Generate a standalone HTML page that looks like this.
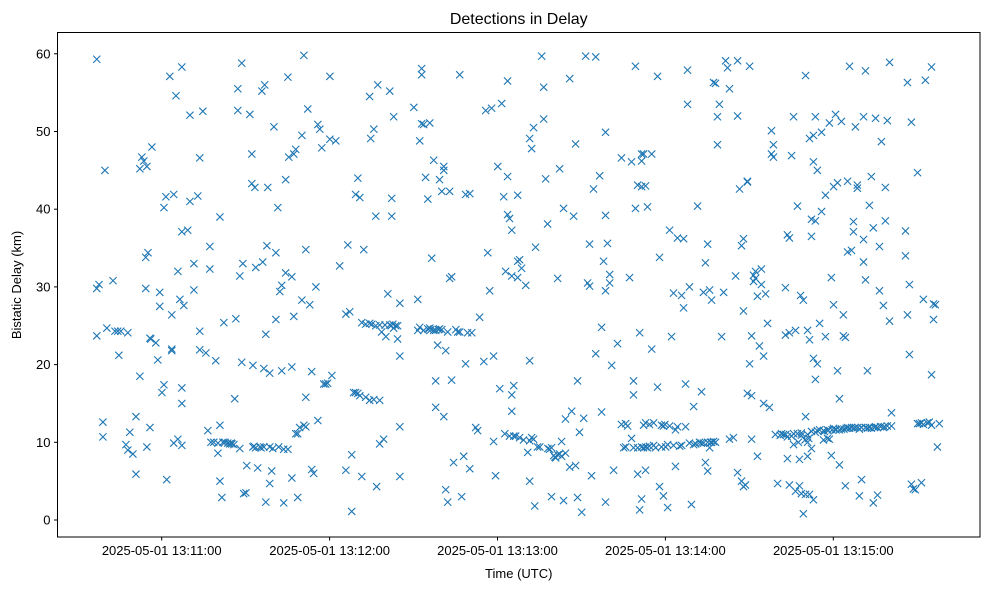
<!DOCTYPE html>
<html><head><meta charset="utf-8"><style>
body{margin:0;background:#fff;}
svg{display:block;font-family:"Liberation Sans","DejaVu Sans",sans-serif;}
</style></head><body>
<svg id="chart" width="989" height="590" viewBox="0 0 989 590">
<rect width="989" height="590" fill="#fff"/>
<text x="518.75" y="24" font-size="16" text-anchor="middle">Detections in Delay</text>
<g id="marks"></g>
<g id="axes"></g>
<text x="518.75" y="578" font-size="13" text-anchor="middle">Time (UTC)</text>
<text x="21" y="285" font-size="13" text-anchor="middle" transform="rotate(-90 21 285)">Bistatic Delay (km)</text>
</svg>
<script>
// seconds after 13:10:00 UTC, bistatic delay km
const detections = [
[36.8,59.3],[36.8,29.8],[37.6,30.3],[36.8,23.7],[39,12.6],[39,10.7],[39.7,45],[40.4,24.7],[42.6,30.8],[43.3,24.3],[44.3,24.3],[44.7,21.2],[45.4,24.3],[47.2,9.7],[47.9,9],[48.6,11.3],[47.9,24.1],[49.7,8.5],[50.8,13.3],[50.8,5.9],[52.2,18.5],[52.2,45.2],[52.9,46.7],[53.6,46.2],[54.3,33.8],[55.1,34.4],[54.3,29.8],[54.7,45.5],[55.8,23.4],[56.5,48],[56.1,23.3],[55.8,11.9],[54.7,9.4],[57.9,22.8],[58.6,20.6],[59.3,29.3],[59.3,27.5],[60.1,16.4],[60.8,17.4],[60.8,40.2],[61.5,41.6],[61.8,5.2],[62.9,57.1],[63.6,26.4],[63.6,21.8],[63.6,22],[64.3,41.9],[64.3,9.9],[65.1,54.6],[65.8,10.4],[65.8,32],[66.5,28.4],[67.2,58.3],[67.2,17],[67.2,15],[67.2,37.1],[67.2,9.6],[67.9,27.6],[69.3,37.3],[70.1,52.1],[70.1,41],[71.5,33],[71.5,29.6],[72.9,41.7],[73.6,46.6],[73.6,24.3],[73.6,21.9],[74.7,52.6],[75.8,21.5],[76.5,11.5],[77.2,35.2],[77.2,32.3],[77.6,10],[78.6,10],[79.3,20.5],[80.1,9.9],[80.1,8.6],[80.8,39],[80.8,12.2],[80.8,5],[81.5,2.9],[82.2,25.4],[82.6,10],[83.6,9.9],[84.3,9.8],[85.1,9.8],[85.8,9.7],[86.1,15.6],[86.5,25.9],[87.2,55.5],[87.2,52.7],[87.9,31.4],[87.9,9.2],[88.6,58.8],[88.6,20.3],[89,33],[89.3,3.4],[90.1,3.5],[90.4,7],[91.5,52.2],[92.2,47.1],[92.2,43.3],[92.6,9.4],[92.6,19.9],[93.6,9.3],[93.6,32.5],[93.3,42.8],[94.3,6.7],[95.1,9.4],[95.8,55.2],[96.1,33.2],[96.5,9.4],[96.5,19.5],[97.2,23.9],[96.8,56],[97.2,2.3],[97.6,35.3],[97.9,42.8],[98.6,9.4],[98.6,4.7],[98.6,18.9],[99.3,6.3],[100.1,50.6],[100.8,34.4],[100.8,25.8],[101.5,40.2],[101.8,9.4],[102.2,29.4],[102.9,30.2],[102.9,19.2],[103.6,9.1],[103.6,2.2],[104.3,31.8],[104.3,43.8],[105.1,57],[105.1,9.1],[105.4,46.7],[106.5,5.4],[106.5,19.7],[106.5,31.3],[107.2,47.1],[107.2,26.2],[107.9,47.7],[107.9,11.1],[108.6,11.1],[108.6,2.9],[109.3,11.9],[110.1,28.3],[110.1,49.5],[110.8,12.2],[110.8,59.8],[111.5,34.8],[111.5,12],[111.5,15.8],[112.2,52.9],[112.9,27.7],[113.6,19.1],[113.6,6.5],[114.3,6],[115.1,30],[115.8,50.9],[115.8,12.8],[116.5,50.3],[117.2,47.9],[117.9,17.5],[118.6,17.5],[119.3,17.6],[120.1,49],[120.1,57.1],[120.8,18.6],[122.2,48.8],[123.6,32.7],[125.8,26.5],[125.8,6.4],[126.5,35.4],[127.2,26.8],[127.9,1.1],[127.9,8.4],[128.6,16.4],[129.3,16.4],[129.3,41.9],[130.1,44],[130.1,16.3],[130.8,16],[130.8,41.5],[131.5,5.6],[131.5,25.4],[132.2,34.8],[132.9,15.8],[132.9,25.2],[134.3,15.4],[134.3,54.5],[134.3,25.3],[134.7,49.1],[135.1,25.2],[135.8,50.3],[135.8,15.5],[136.5,25],[136.5,39.1],[136.8,4.3],[137.2,56],[137.9,15.4],[137.9,9.8],[137.9,25.1],[138.6,24.2],[139.3,10.4],[140.1,23.6],[140.8,29.1],[141.5,25.1],[141.5,55.2],[142.2,41.4],[142.2,39.1],[142.6,25.2],[142.9,24.7],[142.9,51.9],[143.6,25],[144.3,25],[144.3,23.3],[145.1,21.1],[145.1,12],[145.1,5.6],[145.1,27.9],[150.1,53.1],[151.5,28.4],[151.5,24.4],[152.2,24.8],[152.2,48.8],[152.9,51],[152.9,58.1],[152.9,57.3],[153.6,24.4],[153.6,50.9],[154.3,44.1],[155.1,24.6],[155.1,41.3],[155.8,24.7],[155.8,51.1],[156.5,33.7],[157.2,24.4],[157.2,46.3],[157.9,24.4],[157.9,14.5],[157.9,17.9],[158.6,22.5],[159.3,24.6],[159.3,43.8],[160.1,24.5],[160.1,42.3],[160.8,45.5],[160.8,13.3],[160.8,45],[161.5,3.9],[161.5,21.8],[162.2,24.2],[162.2,2.3],[162.9,42.3],[162.9,31.1],[163.6,31.3],[163.6,18],[164.3,7.4],[165.1,24.5],[165.8,24.2],[166.5,24.2],[166.5,57.3],[167.2,3],[167.9,8.2],[168.6,41.9],[168.6,20.1],[169.3,24.1],[170.1,42],[170.1,6.6],[170.8,24.1],[172.2,11.9],[172.9,11.5],[173.6,26.1],[175.1,20.4],[175.8,52.7],[176.5,34.4],[177.2,29.5],[177.9,53],[178.6,21.1],[178.6,10.1],[179.3,5.7],[180.1,45.5],[180.8,16.9],[181.5,53.6],[182.2,41.6],[182.6,11.1],[182.9,32],[183.6,39.3],[183.6,56.5],[183.6,44.2],[184.3,10.8],[184.3,38.8],[185.1,16.1],[185.1,14],[185.1,31.4],[185.1,37.3],[185.8,10.8],[185.8,17.3],[186.5,10.8],[187.2,41.8],[187.2,33.3],[187.2,31.2],[187.9,10.6],[187.9,33.5],[188.6,32.4],[189.3,10.3],[190.1,30.2],[190.8,8.7],[191.5,10.2],[191.5,20.5],[191.5,49.1],[191.5,5],[192.2,47.8],[192.2,10.6],[192.9,10.4],[192.9,50.5],[193.3,1.8],[193.6,35.1],[194.3,9.4],[195.1,9.4],[195.8,59.7],[196.5,51.6],[196.5,55.7],[197.2,43.9],[197.9,38.1],[198.6,9.1],[199.3,9.3],[199.3,3],[200.1,8.3],[200.8,8],[201.5,8.4],[201.5,31.1],[202.2,45.2],[202.2,8.5],[202.9,8.2],[202.9,10.1],[203.6,40.1],[203.6,2.5],[204.3,13],[204.3,8.6],[205.8,56.8],[205.8,6.8],[206.5,14],[207.2,39.1],[207.9,48.4],[207.9,7],[208.6,17.9],[208.6,2.9],[209.3,11.3],[210.1,1],[210.8,13.1],[211.5,59.7],[212.2,30.5],[212.9,35.5],[212.9,30.1],[213.6,5.7],[214.3,42.6],[215.1,59.6],[215.1,21.4],[216.5,44.3],[217.2,24.8],[217.2,13.9],[217.9,33.3],[218.6,39.2],[218.6,29.5],[218.6,49.9],[218.6,2.3],[219.3,35.6],[220.1,30.5],[220.1,31.6],[220.8,19.9],[221.5,6.4],[222.9,22.7],[224.3,46.6],[224.3,12.3],[225.1,9.3],[225.8,12.4],[225.8,9.4],[226.5,12.1],[227.2,31.2],[227.9,46.1],[227.9,10.5],[228.6,17.9],[228.6,9.3],[228.6,16.1],[229.3,40.1],[229.3,58.4],[230.1,43.1],[230.1,5.9],[230.1,9.3],[230.8,1.3],[230.8,24.1],[231.5,47.1],[231.5,46.2],[231.5,42.9],[231.5,9.4],[231.5,2.7],[232.2,47.1],[232.2,9.3],[232.2,12.2],[232.9,12.5],[232.9,43],[232.9,6.4],[233.6,40.3],[233.6,9.3],[234.3,9.5],[234.3,12.3],[235.1,47.1],[235.1,22],[235.8,9.6],[235.8,12.5],[236.5,9.3],[237.2,57.1],[237.2,17.1],[237.9,33.8],[237.9,4.3],[238.6,9.4],[238.6,12.2],[239.3,12.1],[239.3,3.1],[240.1,9.4],[240.8,1.6],[240.8,9.7],[241.5,12.1],[241.5,37.3],[242.2,23.6],[242.9,29.2],[242.9,9.6],[243.6,6.9],[243.6,11.6],[244.3,36.3],[244.3,12],[245.1,9.5],[245.8,28.9],[245.8,9.6],[246.5,36.2],[246.5,27.3],[247.2,17.5],[247.2,12],[247.9,53.5],[247.9,57.9],[248.6,9.9],[248.6,30],[249.3,2],[250.1,9.7],[250.1,14.6],[250.8,9.8],[251.5,40.4],[252.2,10],[252.9,16.5],[253.6,29.3],[253.6,9.9],[254.3,7.4],[254.3,33.1],[255.1,35.5],[255.1,10],[255.1,6.3],[255.8,29.6],[255.8,9.3],[256.5,10],[256.5,28.3],[257.2,56.3],[257.2,10.1],[257.9,56.2],[257.9,10],[258.6,48.3],[258.6,51.9],[259.3,53.5],[260.1,23.6],[260.8,29.3],[261.5,59.1],[262.2,58.2],[262.9,55.5],[262.9,10.4],[264.3,10.6],[265.1,31.4],[265.8,52],[265.8,59.1],[265.8,6.1],[266.5,42.6],[267.2,35.3],[267.2,5],[267.9,26.9],[267.9,36.2],[267.9,4.3],[268.6,4.5],[269.3,43.6],[269.3,16.3],[269.3,43.5],[270.1,20.1],[270.1,58.4],[270.8,10.4],[270.8,16],[270.8,23.7],[271.5,31.5],[271.5,30.7],[272.2,32],[272.2,31.1],[272.9,28.8],[272.9,8.2],[273.6,22.4],[274.3,32.3],[274.3,30.3],[275.1,21.1],[275.1,15],[275.8,29.1],[276.5,25.3],[277.2,14.5],[277.9,50.1],[277.9,47.1],[278.6,48.3],[278.6,46.7],[279.3,11],[280.1,4.7],[281.5,11.1],[282.2,11],[282.9,29.9],[282.9,23.8],[283.6,7.9],[283.6,36.7],[283.6,10.7],[284.3,4.5],[284.3,36.3],[284.3,24.1],[285.1,10.8],[285.1,46.9],[285.8,9.7],[285.8,11.1],[285.8,51.9],[286.5,3.7],[286.5,24.4],[287.2,40.4],[287.2,11.1],[287.9,4.4],[287.9,7.8],[288.3,28.9],[288.6,10.9],[288.6,11.2],[288.6,3.4],[289.3,28.3],[289.3,0.8],[290.1,57.2],[290.1,13.3],[290.1,3.3],[290.8,24.4],[290.8,11],[290.8,10],[290.8,8.2],[291.5,49.1],[291.5,3.3],[291.5,23.2],[292.2,36.5],[292.2,38.7],[292.2,9.2],[292.2,11.4],[292.9,49.5],[292.9,46.1],[292.9,20.8],[292.9,2.6],[293.6,38.5],[293.6,51.9],[293.6,11.3],[293.6,18.1],[294.3,11.5],[294.3,45],[294.3,20.1],[295.1,11.6],[295.1,25.3],[295.8,39.7],[295.8,49.9],[296.5,11.5],[296.5,10.3],[297.2,23.6],[297.2,41.8],[297.9,11.6],[297.9,10.5],[298.6,51.1],[298.6,10.4],[299.3,31.2],[299.3,8.3],[300.1,11.8],[300.1,42.9],[300.1,27.7],[300.8,52.2],[300.8,11.7],[301.5,19.2],[301.5,43.4],[302.2,11.6],[302.2,15.6],[302.2,7.1],[302.9,11.7],[302.9,51.3],[303.6,26.4],[303.6,23.7],[304.3,23.5],[304.3,4.4],[305.1,43.6],[305.1,11.9],[305.1,34.5],[305.8,58.4],[305.8,11.8],[306.5,34.7],[306.5,11.9],[307.2,38.4],[307.2,37.1],[307.9,50.6],[307.9,11.9],[308.6,43.1],[308.6,42.7],[309.3,11.7],[309.3,3.1],[310.1,11.9],[310.1,5.2],[310.8,36.1],[310.8,51.9],[310.8,33.2],[311.5,57.8],[311.5,11.9],[311.5,30.9],[312.2,19.2],[312.2,11.8],[312.9,40.5],[312.9,11.9],[313.6,44.2],[313.6,11.8],[314.3,2.2],[314.3,37.6],[315.1,12],[315.1,51.7],[315.8,3.2],[315.8,11.9],[316.5,29.5],[316.5,35.2],[317.2,48.7],[317.9,27.6],[317.9,11.9],[318.6,38.5],[318.6,42.8],[319.3,12.1],[319.3,51.4],[320.1,25.6],[320.1,58.9],[320.8,12.1],[320.8,13.8],[325.8,37.2],[325.8,34],[326.5,26.4],[326.5,56.3],[327.2,30.3],[327.2,21.3],[327.9,4.6],[327.9,51.2],[328.6,4],[329.3,3.9],[330.1,12.4],[330.1,44.7],[330.8,12.4],[331.5,12.5],[331.5,4.8],[332.2,12.3],[332.2,28.4],[332.9,56.6],[333.6,12.5],[334.3,12.6],[335.1,12.2],[335.1,58.3],[335.1,18.7],[335.8,25.8],[335.8,27.8],[336.5,27.7],[337.2,9.4],[337.9,12.4],
[296.8,11.4],[298.2,11.5],[299.6,11.6],[301.0,11.6],[303.8,11.7],[304.6,11.8],[307.4,11.8],[308.8,11.9],[314.7,11.9],[316.9,12.0],[318.3,12.0],[281.0,10.9],[283.0,11.0],[287.5,10.0],[289.9,10.3],[291.2,10.5],[84.8,9.9],[81.9,10.0],[93.0,9.5],[95.5,9.3],[99.7,9.2],[139.8,25.1],[142.0,25.0],[156.2,24.5],[158.9,24.5],[198.0,9.2],[200.5,8.1],[233.0,9.4],[239.8,12.3],[252.8,9.9],[256.2,10.0]
];
const yTickValues = [0,10,20,30,40,50,60];
const xTickSeconds = [60,120,180,240,300];
const xTickLabels = ["2025-05-01 13:11:00","2025-05-01 13:12:00","2025-05-01 13:13:00","2025-05-01 13:14:00","2025-05-01 13:15:00"];

const NS = "http://www.w3.org/2000/svg";
const L = 57.5, R = 980, T = 32.5, B = 537;
function xScale(s){ return 161.7 + (s - 60) * (167.9 / 60); }
function yScale(v){ return 520 - v * 7.77; }

const marks = document.getElementById('marks');
detections.forEach(function(d){
  const g = document.createElementNS(NS, 'path');
  const cx = xScale(d[0]), cy = yScale(d[1]), h = 3.6;
  g.setAttribute('d', 'M'+(cx-h)+' '+(cy-h)+'L'+(cx+h)+' '+(cy+h)+'M'+(cx-h)+' '+(cy+h)+'L'+(cx+h)+' '+(cy-h));
  g.setAttribute('stroke', '#1f77b4');
  g.setAttribute('stroke-width', '1.1');
  g.setAttribute('fill', 'none');
  
  
  marks.appendChild(g);
});

const axes = document.getElementById('axes');
const frame = document.createElementNS(NS, 'rect');
frame.setAttribute('x', L); frame.setAttribute('y', T);
frame.setAttribute('width', R - L); frame.setAttribute('height', B - T);
frame.setAttribute('fill', 'none'); frame.setAttribute('stroke', '#000'); frame.setAttribute('stroke-width', '1');


axes.appendChild(frame);

yTickValues.forEach(function(v){
  const y = yScale(v);
  const t = document.createElementNS(NS, 'line');
  t.setAttribute('x1', L - 3.5); t.setAttribute('x2', L); t.setAttribute('y1', y); t.setAttribute('y2', y);
  t.setAttribute('stroke', '#000');
  
  
  axes.appendChild(t);
  const tx = document.createElementNS(NS, 'text');
  tx.setAttribute('x', L - 7); tx.setAttribute('y', y + 4.5);
  tx.setAttribute('font-size', '13'); tx.setAttribute('text-anchor', 'end');
  tx.textContent = v;
  
  
  axes.appendChild(tx);
});

xTickSeconds.forEach(function(s, i){
  const x = xScale(s);
  const t = document.createElementNS(NS, 'line');
  t.setAttribute('x1', x); t.setAttribute('x2', x); t.setAttribute('y1', B); t.setAttribute('y2', B + 3.5);
  t.setAttribute('stroke', '#000');
  
  
  axes.appendChild(t);
  const tx = document.createElementNS(NS, 'text');
  tx.setAttribute('x', x); tx.setAttribute('y', B + 18);
  tx.setAttribute('font-size', '13'); tx.setAttribute('text-anchor', 'middle');
  tx.textContent = xTickLabels[i];
  
  
  axes.appendChild(tx);
});
</script>
</body></html>
